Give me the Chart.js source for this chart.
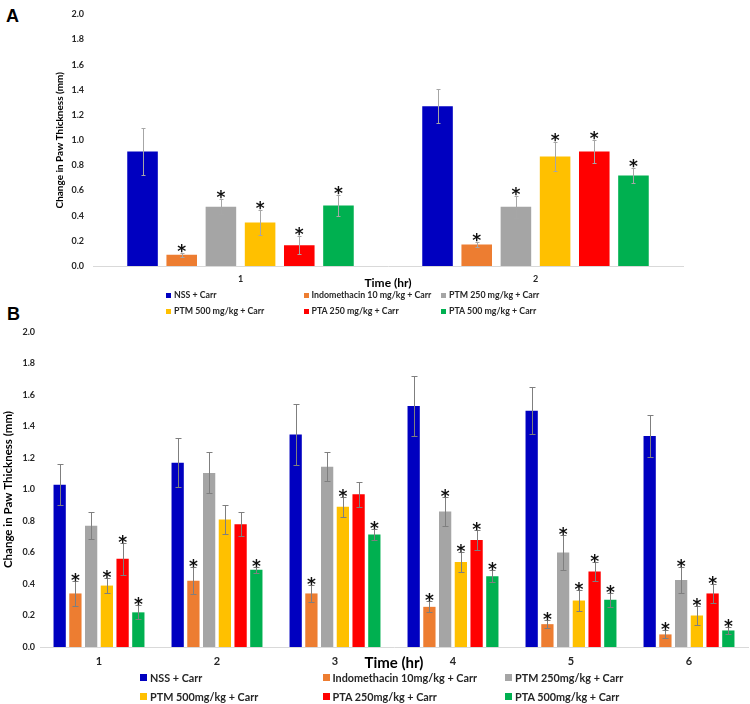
<!DOCTYPE html>
<html>
<head>
<meta charset="utf-8">
<script src="https://cdn.jsdelivr.net/npm/chart.js@4.4.3/dist/chart.umd.min.js"></script>
<style>
  body { margin: 0; background: #fff; width: 750px; height: 704px; position: relative; overflow: hidden; font-family: Lato, "Open Sans", sans-serif; }
  .panel { position: absolute; font: bold 18px "Liberation Sans", Arial, sans-serif; color: #000; }
  #wrapA { position: absolute; left: 0; top: 0; width: 750px; height: 290px; }
  #wrapB { position: absolute; left: 0; top: 318px; width: 750px; height: 354px; }
  .legend { position: absolute; display: grid; font-weight: bold; color: #262626; white-space: nowrap; }
  .legend .item { display: flex; align-items: center; }
  .legend .sw { display: inline-block; margin-right: 3px; }
  #legendA { left: 166px; top: 287px; grid-template-columns: repeat(3, 137.5px); font-size: 8.8px; line-height: 16px; }
  #legendA .sw { width: 5px; height: 5px; }
  #legendB { left: 140px; top: 668px; grid-template-columns: repeat(3, 182.5px); font-size: 10.8px; line-height: 19px; }
  #legendB .sw { width: 7px; height: 7px; }
</style>
</head>
<body>
<div class="panel" style="left:6px;top:6px">A</div>
<div class="panel" style="left:7px;top:304px">B</div>
<div id="wrapA"><canvas id="chartA"></canvas></div>
<div id="legendA" class="legend"></div>
<div id="wrapB"><canvas id="chartB"></canvas></div>
<div id="legendB" class="legend"></div>
<script>
// categories
const hoursA = ['1', '2'];
const hoursB = ['1', '2', '3', '4', '5', '6'];
const groupColors = ['#0000C0', '#ED7D31', '#A5A5A5', '#FFC000', '#FF0000', '#00B050'];
const groupsA = ['NSS + Carr', 'Indomethacin 10 mg/kg + Carr', 'PTM 250 mg/kg + Carr',
                 'PTM 500 mg/kg + Carr', 'PTA 250 mg/kg + Carr', 'PTA 500 mg/kg + Carr'];
const groupsB = ['NSS + Carr', 'Indomethacin 10mg/kg + Carr', 'PTM 250mg/kg + Carr',
                 'PTM 500mg/kg + Carr', 'PTA 250mg/kg + Carr', 'PTA 500mg/kg + Carr'];
const yTicks = [0, 0.2, 0.4, 0.6, 0.8, 1.0, 1.2, 1.4, 1.6, 1.8, 2.0];

// panel A : mean change (mm) at 1 and 2 hr, error, significance (*)
const nssA = [0.91, 1.27],     nssErrA = [0.19, 0.135],    nssStarA = [0, 0];
const indoA = [0.09, 0.17],    indoErrA = [0.015, 0.02],   indoStarA = [1, 1];
const ptm250A = [0.47, 0.47],  ptm250ErrA = [0.06, 0.085], ptm250StarA = [1, 1];
const ptm500A = [0.345, 0.87], ptm500ErrA = [0.10, 0.115], ptm500StarA = [1, 1];
const pta250A = [0.165, 0.91], pta250ErrA = [0.07, 0.095], pta250StarA = [1, 1];
const pta500A = [0.48, 0.72],  pta500ErrA = [0.085, 0.06], pta500StarA = [1, 1];

// panel B : mean change (mm) at 1..6 hr
const nssB = [1.03, 1.17, 1.35, 1.53, 1.50, 1.34];
const nssErrB = [0.13, 0.155, 0.195, 0.19, 0.15, 0.135];
const nssStarB = [0, 0, 0, 0, 0, 0];
const indoB = [0.34, 0.42, 0.34, 0.255, 0.145, 0.08];
const indoErrB = [0.08, 0.085, 0.055, 0.035, 0.025, 0.025];
const indoStarB = [1, 1, 1, 1, 1, 1];
const ptm250B = [0.77, 1.105, 1.145, 0.86, 0.60, 0.425];
const ptm250ErrB = [0.085, 0.13, 0.09, 0.09, 0.11, 0.085];
const ptm250StarB = [0, 0, 0, 1, 1, 1];
const ptm500B = [0.39, 0.81, 0.89, 0.54, 0.295, 0.20];
const ptm500ErrB = [0.05, 0.09, 0.065, 0.065, 0.065, 0.06];
const ptm500StarB = [1, 0, 1, 1, 1, 1];
const pta250B = [0.56, 0.78, 0.97, 0.68, 0.48, 0.34];
const pta250ErrB = [0.10, 0.075, 0.08, 0.065, 0.06, 0.06];
const pta250StarB = [1, 0, 0, 1, 1, 1];
const pta500B = [0.22, 0.49, 0.715, 0.45, 0.30, 0.105];
const pta500ErrB = [0.045, 0.02, 0.035, 0.04, 0.045, 0.025];
const pta500StarB = [1, 1, 1, 1, 1, 1];

const valuesA = [nssA, indoA, ptm250A, ptm500A, pta250A, pta500A];
const errorsA = [nssErrA, indoErrA, ptm250ErrA, ptm500ErrA, pta250ErrA, pta500ErrA];
const starsA = [nssStarA, indoStarA, ptm250StarA, ptm500StarA, pta250StarA, pta500StarA];
const valuesB = [nssB, indoB, ptm250B, ptm500B, pta250B, pta500B];
const errorsB = [nssErrB, indoErrB, ptm250ErrB, ptm500ErrB, pta250ErrB, pta500ErrB];
const starsB = [nssStarB, indoStarB, ptm250StarB, ptm500StarB, pta250StarB, pta500StarB];

// error bars + asterisks, placed with the chart's own scales
const errorBars = {
  id: 'errorBars',
  afterDatasetsDraw(chart, args, opts) {
    const ctx = chart.ctx;
    const y = chart.scales.y;
    ctx.save();
    chart.data.datasets.forEach((ds, i) => {
      chart.getDatasetMeta(i).data.forEach((bar, j) => {
        const v = ds.data[j], e = ds.errors[j];
        const top = Math.round(y.getPixelForValue(v + e)) + 0.5;
        const bot = Math.round(y.getPixelForValue(v - e)) + 0.5;
        const x = Math.round(bar.x) + 0.5;
        ctx.strokeStyle = opts.color;
        ctx.lineWidth = 1;
        ctx.beginPath();
        ctx.moveTo(x, top); ctx.lineTo(x, bot);
        ctx.moveTo(x - opts.cap, top); ctx.lineTo(x + opts.cap, top);
        ctx.moveTo(x - opts.cap, bot); ctx.lineTo(x + opts.cap, bot);
        ctx.stroke();
        if (ds.stars[j]) {
          ctx.fillStyle = '#111';
          ctx.font = opts.starFont;
          ctx.textAlign = 'center';
          ctx.textBaseline = 'alphabetic';
          ctx.fillText('*', bar.x, top + opts.starShift);
        }
      });
    });
    ctx.restore();
  }
};

function makeDatasets(labels, values, errors, stars, catPct, barPct) {
  return labels.map((label, i) => ({
    label: label,
    data: values[i],
    errors: errors[i],
    stars: stars[i],
    backgroundColor: groupColors[i],
    borderWidth: 0,
    categoryPercentage: catPct,
    barPercentage: barPct
  }));
}

function makeChart(id, hours, datasets, s) {
  return new Chart(document.getElementById(id), {
    type: 'bar',
    data: { labels: hours, datasets: datasets },
    plugins: [errorBars],
    options: {
      responsive: true,
      maintainAspectRatio: false,
      animation: false,
      layout: { padding: s.padding },
      plugins: {
        legend: { display: false },
        tooltip: { enabled: false },
        errorBars: s.err
      },
      scales: {
        x: {
          grid: { display: false, drawTicks: false },
          border: { display: true, color: '#D9D9D9' },
          ticks: { color: '#262626', font: { family: 'Lato', weight: 'bold', size: s.xTickSize }, padding: s.xTickPad },
          title: { display: true, text: 'Time (hr)', color: '#000', font: { family: 'Lato', weight: 'bold', size: s.xTitleSize }, padding: { top: 0, bottom: 0 } },
          afterFit: sc => { sc.height = s.xHeight; }
        },
        y: {
          min: 0, max: 2,
          afterBuildTicks: sc => { sc.ticks = yTicks.map(v => ({ value: v })); },
          grid: { display: false, drawTicks: false },
          border: { display: false },
          ticks: { color: '#262626', font: { family: 'Lato', weight: 'bold', size: 9 }, padding: s.yTickPad, callback: v => v.toFixed(1) },
          title: { display: true, text: 'Change in Paw Thickness (mm)', color: '#000', font: { family: 'Lato', weight: 'bold', size: s.yTitleSize }, padding: { top: s.yTitlePad, bottom: 0 } },
          afterFit: sc => { sc.width = s.yWidth; }
        }
      }
    }
  });
}

function buildLegend(chart, id) {
  const box = document.getElementById(id);
  chart.data.datasets.forEach(ds => {
    const item = document.createElement('div');
    item.className = 'item';
    const sw = document.createElement('span');
    sw.className = 'sw';
    sw.style.background = ds.backgroundColor;
    item.appendChild(sw);
    item.appendChild(document.createTextNode(ds.label));
    box.appendChild(item);
  });
}

const chartA = makeChart('chartA', hoursA,
  makeDatasets(groupsA, valuesA, errorsA, starsA, 0.797, 0.78), {
    padding: { left: 0, right: 67, top: 4, bottom: 0 },
    xTickSize: 9, xTickPad: 8, xTitleSize: 12, xHeight: 24,
    yTickPad: 9, yTitleSize: 10, yTitlePad: 54, yWidth: 93,
    err: { color: '#A6A6A6', cap: 2, starFont: 'bold 17px "DejaVu Sans"', starShift: 3 }
  });

const chartB = makeChart('chartB', hoursB,
  makeDatasets(groupsB, valuesB, errorsB, starsB, 0.80, 0.78), {
    padding: { left: 0, right: 2, top: 14, bottom: 0 },
    xTickSize: 11, xTickPad: 8, xTitleSize: 15, xHeight: 25,
    yTickPad: 5, yTitleSize: 11.5, yTitlePad: 1, yWidth: 40,
    err: { color: '#7F7F7F', cap: 3, starFont: 'bold 17px "DejaVu Sans"', starShift: 4 }
  });

buildLegend(chartA, 'legendA');
buildLegend(chartB, 'legendB');
</script>
</body>
</html>
